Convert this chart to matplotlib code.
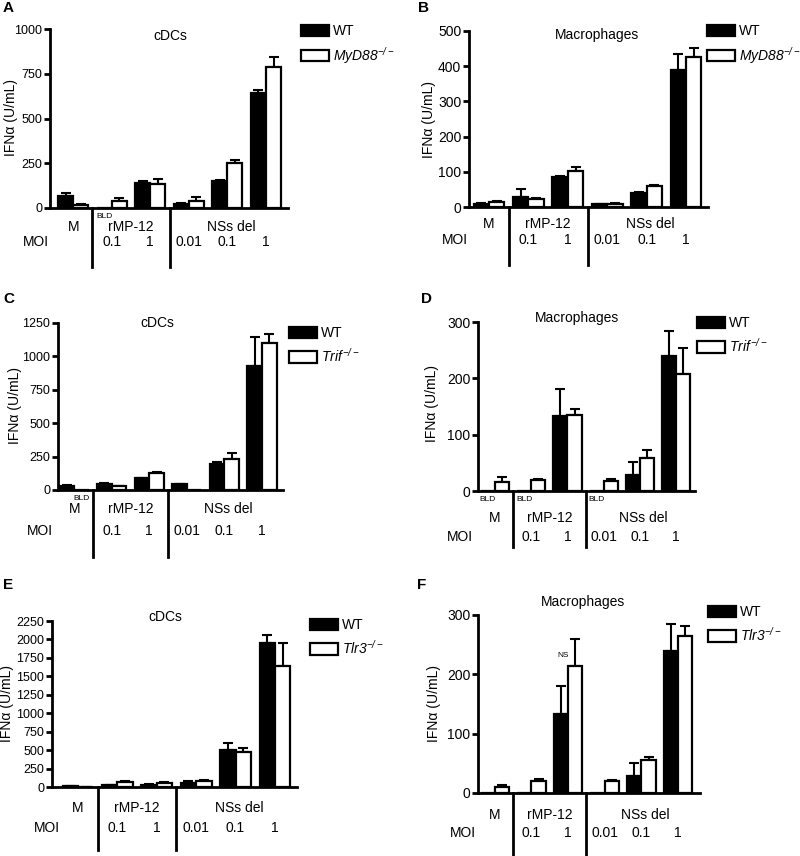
import matplotlib
matplotlib.use("Agg")
import matplotlib.pyplot as plt
from matplotlib.patches import Patch
import numpy as np

plt.rcParams['font.family'] = ['Liberation Sans', 'DejaVu Sans']
plt.rcParams['mathtext.fontset'] = 'custom'
plt.rcParams['mathtext.rm'] = 'Liberation Sans:italic'
plt.rcParams['mathtext.it'] = 'Liberation Sans:italic'

# Data (IFNa, U/mL) - groups: M, rMP-12 0.1, rMP-12 1, NSs del 0.01, 0.1, 1
moi_labels = ["", "0.1", "1", "0.01", "0.1", "1"]
virus_labels = ["M", "rMP-12", "NSs del"]

a_wt = [65, 0, 140, 25, 150, 645]
a_wt_err = [20, 0, 13, 5, 5, 17]
a_ko = [15, 38, 135, 38, 252, 785]
a_ko_err = [5, 18, 25, 25, 15, 60]

b_wt = [9, 28, 85, 8, 40, 390]
b_wt_err = [1, 24, 4, 1, 3, 45]
b_ko = [14, 22, 102, 9, 60, 425]
b_ko_err = [3, 4, 12, 1, 3, 28]

c_wt = [30, 45, 88, 42, 195, 930]
c_wt_err = [4, 4, 5, 4, 15, 215]
c_ko = [0, 28, 125, 0, 235, 1100]
c_ko_err = [0, 3, 10, 0, 42, 70]

d_wt = [0, 0, 134, 0, 28, 240]
d_wt_err = [0, 0, 47, 0, 23, 44]
d_ko = [16, 20, 135, 18, 59, 208]
d_ko_err = [9, 1, 10, 3, 13, 46]

e_wt = [8, 25, 30, 55, 500, 1950]
e_wt_err = [2, 5, 5, 30, 95, 115]
e_ko = [4, 65, 55, 75, 475, 1640]
e_ko_err = [1, 10, 8, 15, 58, 310]

f_wt = [0, 0, 133, 0, 28, 239]
f_wt_err = [0, 0, 48, 0, 23, 45]
f_ko = [10, 20, 214, 21, 55, 264]
f_ko_err = [3, 3, 45, 1, 6, 18]

# below detection limit markers: (series, group index)
a_bld = [("wt", 1)]
c_bld = [("ko", 0)]
d_bld = [("wt", 0), ("wt", 1), ("wt", 3)]

W, H = 800, 856
fig = plt.figure(figsize=(W / 100, H / 100), dpi=100)

panels = [
    dict(letter="A", title="cDCs", ko="MyD88", wt=a_wt, wt_err=a_wt_err, kov=a_ko, ko_err=a_ko_err,
         bld=a_bld, box=(50, 288, 29, 208), ymax=1000, step=250, xlim=(-0.6, 5.57), tick_fs=9,
         title_xy=(170, 36), letter_xy=(8, 8), ylab_xy=(11, 118), leg_xy=(301, 24),
         row1=19, row2=34, div=59, moi_x=36),
    dict(letter="B", title="Macrophages", ko="MyD88", wt=b_wt, wt_err=b_wt_err, kov=b_ko, ko_err=b_ko_err,
         bld=[], box=(469, 708, 31, 207), ymax=500, step=100, xlim=(-0.51, 5.56), tick_fs=10,
         title_xy=(597, 35), letter_xy=(423, 8), ylab_xy=(429, 119), leg_xy=(707, 24),
         row1=17, row2=33, div=58, moi_x=455),
    dict(letter="C", title="cDCs", ko="Trif", wt=c_wt, wt_err=c_wt_err, kov=c_ko, ko_err=c_ko_err,
         bld=c_bld, box=(58, 283, 323, 490), ymax=1250, step=250, xlim=(-0.43, 5.56), tick_fs=9,
         title_xy=(157, 323), letter_xy=(9, 299), ylab_xy=(15, 406), leg_xy=(289, 326),
         row1=19, row2=41, div=67, moi_x=40),
    dict(letter="D", title="Macrophages", ko="Trif", wt=d_wt, wt_err=d_wt_err, kov=d_ko, ko_err=d_ko_err,
         bld=d_bld, box=(478, 695, 322, 491), ymax=300, step=100, xlim=(-0.47, 5.52), tick_fs=10,
         title_xy=(577, 318), letter_xy=(427, 299), ylab_xy=(432, 404), leg_xy=(697, 316),
         row1=27, row2=46, div=56, moi_x=460),
    dict(letter="E", title="cDCs", ko="Tlr3", wt=e_wt, wt_err=e_wt_err, kov=e_ko, ko_err=e_ko_err,
         bld=[], box=(52, 297, 621, 787), ymax=2250, step=250, xlim=(-0.66, 5.56), tick_fs=9,
         title_xy=(165, 617), letter_xy=(8, 585), ylab_xy=(7, 704), leg_xy=(310, 618),
         row1=21, row2=41, div=63, moi_x=47),
    dict(letter="F", title="Macrophages", ko="Tlr3", wt=f_wt, wt_err=f_wt_err, kov=f_ko, ko_err=f_ko_err,
         bld=[], box=(478, 700, 615, 793), ymax=300, step=100, xlim=(-0.46, 5.6), tick_fs=10,
         title_xy=(583, 602), letter_xy=(422, 585), ylab_xy=(434, 704), leg_xy=(708, 605),
         row1=22, row2=40, div=63, moi_x=463),
]

bw = 0.39
fs = 10

for p in panels:
    x0, x1, yt, yb = p["box"]
    ax = fig.add_axes([x0 / W, 1 - yb / H, (x1 - x0) / W, (yb - yt) / H])
    x = np.arange(6)
    ax.bar(x - bw / 2, p["wt"], bw, color="black", edgecolor="black", linewidth=1.6, zorder=2)
    ax.bar(x + bw / 2, p["kov"], bw, color="white", edgecolor="black", linewidth=1.6, zorder=2)

    for xs, vals, errs in [(x - bw / 2, p["wt"], p["wt_err"]), (x + bw / 2, p["kov"], p["ko_err"])]:
        idx = [i for i in range(6) if errs[i] > 0]
        ax.errorbar(xs[idx], np.array(vals)[idx], yerr=[np.zeros(len(idx)), np.array(errs)[idx]],
                    fmt="none", ecolor="black", elinewidth=1.5, capsize=3.5, capthick=1.5, zorder=1)

    ax.set_xlim(*p["xlim"])
    ax.set_ylim(0, p["ymax"])
    ax.set_yticks(np.arange(0, p["ymax"] + 1, p["step"]))
    ax.set_xticks([])
    for s in ["top", "right"]:
        ax.spines[s].set_visible(False)
    for s in ["left", "bottom"]:
        ax.spines[s].set_linewidth(2)
        ax.spines[s].set_zorder(3)
    ax.tick_params(axis="y", length=4, width=2, pad=1.5, labelsize=p["tick_fs"])

    # pixels -> data units below the axis
    ppu = (yb - yt) / p["ymax"]
    for dx in [0.5, 2.5]:
        ax.plot([dx, dx], [0, -p["div"] / ppu], color="black", lw=2, clip_on=False, zorder=3)

    ax.text(0, -p["row1"] / ppu, virus_labels[0], ha="center", va="center", fontsize=fs, clip_on=False)
    ax.text(1.5, -p["row1"] / ppu, virus_labels[1], ha="center", va="center", fontsize=fs, clip_on=False)
    ax.text(4.1, -p["row1"] / ppu, virus_labels[2], ha="center", va="center", fontsize=fs, clip_on=False)
    for i, m in enumerate(moi_labels):
        ax.text(i, -p["row2"] / ppu, m, ha="center", va="center", fontsize=fs, clip_on=False)
    fig.text(p["moi_x"] / W, 1 - (yb + p["row2"]) / H, "MOI", ha="center", va="center", fontsize=fs)

    for series, i in p["bld"]:
        bx = i - bw / 2 if series == "wt" else i + bw / 2
        ax.text(bx, -8 / ppu, "BLD", ha="center", va="center", fontsize=6, clip_on=False)

    fig.text(p["title_xy"][0] / W, 1 - p["title_xy"][1] / H, p["title"], ha="center", va="center", fontsize=fs)
    fig.text(p["letter_xy"][0] / W, 1 - p["letter_xy"][1] / H, p["letter"], ha="center", va="center",
             fontsize=11, fontweight="bold")
    fig.text(p["ylab_xy"][0] / W, 1 - p["ylab_xy"][1] / H, "IFNα (U/mL)", rotation=90,
             ha="center", va="center", fontsize=fs)

    handles = [Patch(facecolor="black", edgecolor="black", linewidth=1.6),
               Patch(facecolor="white", edgecolor="black", linewidth=1.6)]
    labels = ["WT", r"$%s^{-/-}$" % p["ko"]]
    ax.legend(handles, labels, loc="upper left", bbox_to_anchor=(p["leg_xy"][0] / W, 1 - p["leg_xy"][1] / H),
              bbox_transform=fig.transFigure, frameon=False, fontsize=fs, handlelength=2.0,
              handleheight=0.85, handletextpad=0.3, borderpad=0, borderaxespad=0, labelspacing=0.5)

# NS annotation in panel F
fig.axes[-1].text(1.85, 232, "NS", ha="center", va="center", fontsize=6)

fig.savefig("out.png", dpi=100)
